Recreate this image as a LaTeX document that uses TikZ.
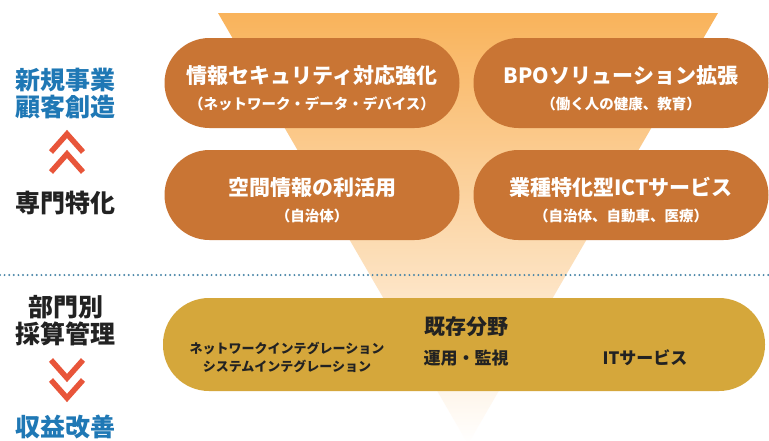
\documentclass[tikz,border=0pt]{standalone}
\usepackage{fontspec}
\setmainfont{Noto Sans CJK JP}
\usetikzlibrary{positioning}
\usetikzlibrary{calc}
\definecolor{pillorange}{HTML}{C97534}
\definecolor{funneltop}{HTML}{F9B35B}
\definecolor{funnelmid}{HTML}{FCD6A6}
\definecolor{goldbar}{HTML}{D5A73B}
\definecolor{labelblue}{HTML}{1F78B5}
\definecolor{labeldark}{HTML}{222222}
\definecolor{chevred}{HTML}{E8553A}
\definecolor{dotblue}{HTML}{4A86A8}
\newcommand{\subsize}{\fontsize{14.5}{26}\selectfont}

\begin{document}
\begin{tikzpicture}[x=1pt, y=-1pt,
        pill/.style={rectangle, rounded corners=45pt, fill=pillorange, minimum width=295pt, minimum height=90pt},
        pilltext/.style={text=white, align=center, font=\bfseries\fontsize{21}{26}\selectfont},
        basebar/.style={rectangle, rounded corners=46pt, fill=goldbar, minimum width=602pt, minimum height=93pt},
        basetext/.style={text=labeldark, align=center, font=\bfseries\fontsize{17}{20}\selectfont},
        sidelabel/.style={align=center, font=\bfseries\fontsize{25}{27}\selectfont},
        chevron/.style={chevred, line width=5.5pt, miter limit=10},
        ]
            \useasboundingbox (0,0) rectangle (769,440);
            \fill[white] (0,0) rectangle (769,440);

            % funnel behind everything
            \shade[top color=funneltop, middle color=funnelmid, bottom color=white]
                (218,13) -- (718,13) -- (468,444) -- cycle;

            % growth fields
            \node[pill] (sec) at (312,83) {};
            \node[pilltext] (sectxt) at (312,88) {情報セキュリティ対応強化\\{\subsize （ネットワーク・データ・デバイス）}};
            \node[pill] (bpo) at (621,83) {};
            \node[pilltext] (bpotxt) at (621,88) {BPOソリューション拡張\\{\subsize （働く人の健康、教育）}};
            \node[pill] (geo) at (312,195) {};
            \node[pilltext] (geotxt) at (312,200) {空間情報の利活用\\{\subsize （自治体）}};
            \node[pill] (ict) at (621,195) {};
            \node[pilltext] (icttxt) at (621,200) {業種特化型ICTサービス\\{\subsize （自治体、自動車、医療）}};

            % separator
            \coordinate (sepL) at (0,275);
            \coordinate (sepR) at (769,275);
            \draw[dotblue, line width=2.2pt, line cap=round, dash pattern=on 0pt off 4.6pt] (sepL) -- (sepR);

            % existing fields
            \node[basebar] (base) at (464,344.5) {};
            \node[basetext, font=\bfseries\fontsize{21}{24}\selectfont] (kizon) at (466,327) {既存分野};
            \node[basetext] (unyo) at (466,358) {運用・監視};
            \node[basetext, font=\bfseries\fontsize{13}{18}\selectfont] (integ) at (287,357) {ネットワークインテグレーション\\システムインテグレーション};
            \node[basetext] (itsv) at (645,358) {ITサービス};

            % left side
            \node[sidelabel, text=labelblue] (shinki) at (66,94) {新規事業\\顧客創造};
            \node[sidelabel, text=labeldark] (senmon) at (66,203) {専門特化};
            \node[sidelabel, text=labeldark] (bumon) at (66,321) {部門別\\採算管理};
            \node[sidelabel, text=labelblue] (shueki) at (66,427) {収益改善};

            \foreach \dy in {0,20} {
                \draw[chevron] (51,152+\dy) -- (67,134+\dy) -- (83,152+\dy);
                \draw[chevron] (51,360+\dy) -- (67,378+\dy) -- (83,360+\dy);
            }
        \end{tikzpicture}
\end{document}
